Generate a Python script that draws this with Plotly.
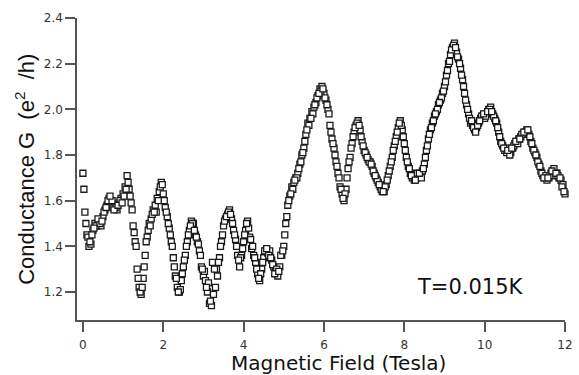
import plotly.graph_objects as go

# Sweep 1: field grid step 0.05 T
field_up = [round(0.05 * i, 3) for i in range(241)]
g_up = [
    1.72, 1.55, 1.45, 1.40, 1.41, 1.47, 1.50, 1.49, 1.51, 1.49,
    1.53, 1.56, 1.58, 1.61, 1.59, 1.57, 1.58, 1.56, 1.59, 1.61,
    1.63, 1.66, 1.71, 1.65, 1.59, 1.49, 1.42, 1.30, 1.22, 1.19,
    1.26, 1.36, 1.44, 1.50, 1.52, 1.56, 1.58, 1.61, 1.64, 1.68,
    1.63, 1.57, 1.53, 1.48, 1.42, 1.35, 1.27, 1.22, 1.20, 1.25,
    1.31, 1.36, 1.42, 1.47, 1.51, 1.50, 1.45, 1.42, 1.38, 1.31,
    1.27, 1.25, 1.20, 1.15, 1.14, 1.19, 1.22, 1.27, 1.35, 1.42,
    1.49, 1.52, 1.54, 1.56, 1.52, 1.47, 1.43, 1.36, 1.31, 1.36,
    1.42, 1.47, 1.51, 1.44, 1.39, 1.36, 1.33, 1.28, 1.25, 1.30,
    1.35, 1.38, 1.37, 1.38, 1.34, 1.31, 1.29, 1.27, 1.31, 1.36,
    1.40, 1.50, 1.58, 1.62, 1.66, 1.68, 1.70, 1.72, 1.76, 1.80,
    1.83, 1.89, 1.94, 1.96, 1.99, 2.01, 2.03, 2.06, 2.09, 2.10,
    2.07, 2.04, 2.00, 1.93, 1.87, 1.83, 1.77, 1.72, 1.66, 1.63,
    1.60, 1.65, 1.74, 1.79, 1.85, 1.90, 1.93, 1.95, 1.91, 1.86,
    1.82, 1.80, 1.78, 1.77, 1.75, 1.72, 1.70, 1.68, 1.66, 1.64,
    1.64, 1.67, 1.71, 1.75, 1.79, 1.84, 1.88, 1.92, 1.95, 1.91,
    1.85, 1.79, 1.75, 1.72, 1.70, 1.69, 1.70, 1.71, 1.71, 1.73,
    1.76, 1.82, 1.87, 1.91, 1.94, 1.97, 1.99, 2.02, 2.04, 2.07,
    2.10, 2.15, 2.20, 2.24, 2.27, 2.29, 2.25, 2.22, 2.18, 2.13,
    2.07, 2.02, 1.98, 1.94, 1.93, 1.91, 1.92, 1.94, 1.96, 1.97,
    1.96, 1.98, 2.00, 2.01, 1.98, 1.96, 1.94, 1.90, 1.86, 1.84,
    1.82, 1.81, 1.82, 1.81, 1.83, 1.85, 1.86, 1.87, 1.88, 1.89,
    1.90, 1.91, 1.89, 1.86, 1.83, 1.81, 1.79, 1.76, 1.73, 1.71,
    1.70, 1.69, 1.70, 1.72, 1.73, 1.71, 1.72, 1.70, 1.69, 1.67,
    1.63,
]

# Sweep 2: field grid step 0.1 T, offset 0.025 T
field_down = [round(0.025 + 0.1 * i, 3) for i in range(120)]
g_down = [
    1.65, 1.44, 1.45, 1.49, 1.50, 1.55, 1.60, 1.60, 1.57, 1.60,
    1.62, 1.68, 1.56, 1.40, 1.20, 1.31, 1.47, 1.54, 1.55, 1.66,
    1.60, 1.50, 1.40, 1.26, 1.21, 1.34, 1.45, 1.50, 1.44, 1.36,
    1.29, 1.24, 1.33, 1.30, 1.40, 1.51, 1.55, 1.50, 1.40, 1.35,
    1.45, 1.48, 1.40, 1.30, 1.28, 1.38, 1.36, 1.32, 1.30, 1.36,
    1.45, 1.60, 1.65, 1.70, 1.77, 1.86, 1.93, 1.98, 2.05, 2.08,
    2.05, 1.98, 1.85, 1.75, 1.65, 1.63, 1.77, 1.88, 1.94, 1.88,
    1.81, 1.77, 1.73, 1.69, 1.65, 1.66, 1.73, 1.82, 1.90, 1.93,
    1.82, 1.74, 1.71, 1.72, 1.70, 1.79, 1.89, 1.95, 2.00, 2.05,
    2.12, 2.21, 2.28, 2.23, 2.15, 2.04, 1.96, 1.92, 1.93, 1.97,
    1.97, 2.00, 1.97, 1.92, 1.85, 1.83, 1.80, 1.84, 1.85, 1.89,
    1.90, 1.88, 1.82, 1.77, 1.72, 1.71, 1.71, 1.74, 1.71, 1.66,
]

# Sweep 3: field grid step 0.1 T, offset 0.075 T
field_back = [round(0.075 + 0.1 * i, 3) for i in range(120)]
g_back = [
    1.50, 1.42, 1.48, 1.52, 1.51, 1.57, 1.62, 1.56, 1.58, 1.59,
    1.65, 1.62, 1.46, 1.26, 1.22, 1.42, 1.49, 1.55, 1.60, 1.67,
    1.55, 1.45, 1.31, 1.20, 1.28, 1.40, 1.49, 1.47, 1.41, 1.30,
    1.22, 1.16, 1.30, 1.33, 1.45, 1.53, 1.54, 1.45, 1.34, 1.39,
    1.50, 1.43, 1.35, 1.26, 1.33, 1.39, 1.35, 1.28, 1.29, 1.38,
    1.53, 1.63, 1.69, 1.74, 1.81, 1.91, 1.96, 2.02, 2.07, 2.09,
    2.02, 1.90, 1.80, 1.70, 1.61, 1.70, 1.83, 1.92, 1.93, 1.84,
    1.79, 1.76, 1.71, 1.67, 1.64, 1.69, 1.77, 1.86, 1.94, 1.88,
    1.77, 1.71, 1.69, 1.72, 1.74, 1.84, 1.92, 1.98, 2.03, 2.08,
    2.17, 2.26, 2.27, 2.20, 2.10, 2.00, 1.95, 1.90, 1.95, 1.98,
    1.99, 1.99, 1.95, 1.88, 1.83, 1.82, 1.83, 1.86, 1.87, 1.90,
    1.91, 1.85, 1.80, 1.75, 1.70, 1.70, 1.73, 1.72, 1.70, 1.64,
]

x_ticks = [0, 2, 4, 6, 8, 10, 12]
y_ticks = [1.2, 1.4, 1.6, 1.8, 2.0, 2.2, 2.4]

marker_style = dict(symbol="square", size=6, color="white",
                    line=dict(color="#1a1a1a", width=1.3))

fig = go.Figure()
for fx, gy in [(field_up, g_up), (field_down, g_down), (field_back, g_back)]:
    fig.add_trace(go.Scatter(x=fx, y=gy, mode="markers",
                             marker=marker_style, cliponaxis=False, showlegend=False))

axis_common = dict(showline=True, linecolor="#555555", linewidth=1.5,
                   ticks="outside", ticklen=10, tickwidth=1.5, tickcolor="#555555",
                   showgrid=False, zeroline=False, ticklabeloverflow="allow",
                   tickfont=dict(family="DejaVu Sans", size=12, color="#333333"))

fig.update_layout(
    width=579, height=375,
    margin=dict(l=77, r=6, t=18, b=55),
    paper_bgcolor="white", plot_bgcolor="white",
    xaxis=dict(range=[-0.147, 12.0], tickvals=x_ticks, ticklabelstandoff=3, **axis_common),
    yaxis=dict(range=[1.0774, 2.4], tickvals=y_ticks, tickformat=".1f", **axis_common),
    annotations=[
        dict(text="Magnetic Field (Tesla)", xref="paper", yref="paper",
             x=0.535, y=-0.142, xanchor="center", yanchor="middle", showarrow=False,
             font=dict(family="DejaVu Sans", size=20, color="#111111")),
        dict(text="Conductance\u00a0G\u00a0\u00a0(e<sup>2</sup>\u00a0\u00a0/h)", xref="paper", yref="paper",
             x=-0.107, y=0.50, xanchor="center", yanchor="middle", showarrow=False,
             textangle=-90,
             font=dict(family="Liberation Sans", size=22, color="#111111")),
        dict(text="T=0.015K", xref="paper", yref="paper",
             x=0.806, y=0.109, xanchor="center", yanchor="middle", showarrow=False,
             font=dict(family="DejaVu Sans", size=21, color="#111111")),
    ],
)

fig.write_html("out.html")
